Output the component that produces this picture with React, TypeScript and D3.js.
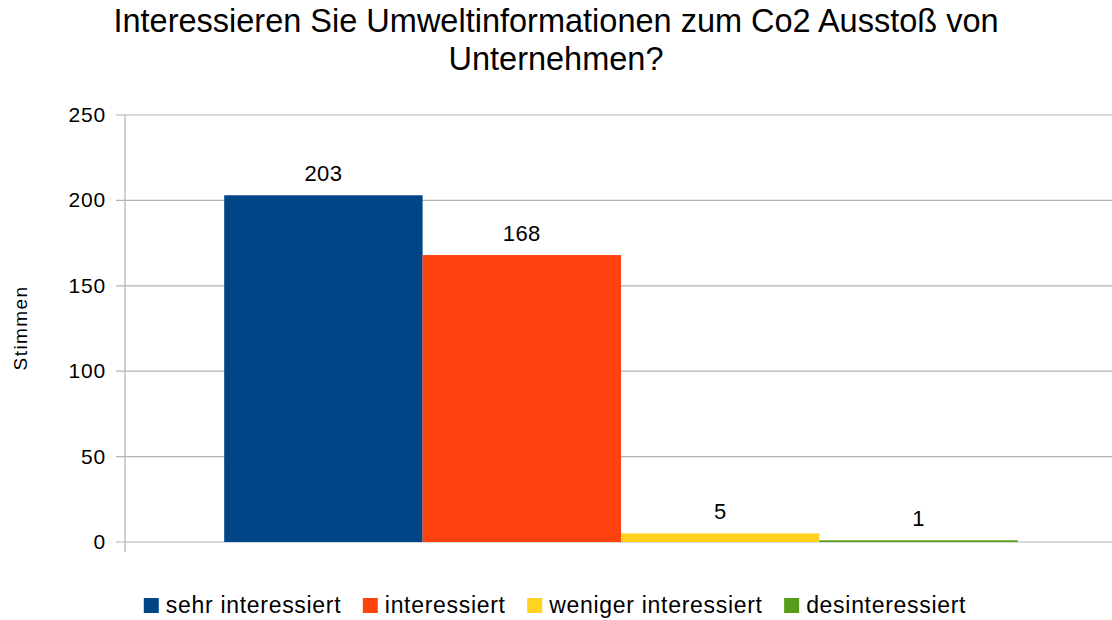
import { useEffect, useRef } from "react"
import * as d3 from "d3"

const categories = ["sehr interessiert", "interessiert", "weniger interessiert", "desinteressiert"]
const values = [203, 168, 5, 1]
const colors = ["#004586", "#ff420e", "#ffd320", "#579d1c"]
const yTicks = [0, 50, 100, 150, 200, 250]
const titleLines = ["Interessieren Sie Umweltinformationen zum Co2 Ausstoß von", "Unternehmen?"]

export default function App() {
  const svgRef = useRef<SVGSVGElement>(null)

  useEffect(() => {
    if (!svgRef.current) return
    const svg = d3.select(svgRef.current)
    svg.selectAll("*").remove()

    const width = 1112
    const height = 620
    const font = "'Liberation Sans', Arial, sans-serif"
    const left = 125
    const right = 1117
    const top = 115
    const bottom = 542

    const y = d3.scaleLinear().domain([0, 250]).range([bottom, top])
    const x = d3.scaleBand().domain(categories).range([left + (right - left) * 0.1, right - (right - left) * 0.1])

    svg.attr("width", width).attr("height", height)

    // title
    svg
      .selectAll("text.title")
      .data(titleLines)
      .enter()
      .append("text")
      .attr("x", 556)
      .attr("y", (d, i) => 32 + i * 37.5)
      .attr("text-anchor", "middle")
      .attr("font-family", font)
      .attr("font-size", 32.5)
      .attr("fill", "#000")
      .text((d) => d)

    // grid lines
    svg
      .selectAll("line.grid")
      .data(yTicks)
      .enter()
      .append("line")
      .attr("x1", left - 9)
      .attr("x2", width)
      .attr("y1", (d) => y(d))
      .attr("y2", (d) => y(d))
      .attr("stroke", "#b3b3b3")
      .attr("stroke-width", 1.2)

    svg
      .selectAll("text.tick")
      .data(yTicks)
      .enter()
      .append("text")
      .attr("x", 106)
      .attr("y", (d) => y(d) + 7)
      .attr("text-anchor", "end")
      .attr("font-family", font)
      .attr("font-size", 21)
      .attr("letter-spacing", 0.8)
      .text((d) => d)

    // bars
    svg
      .selectAll("rect.bar")
      .data(categories)
      .enter()
      .append("rect")
      .attr("x", (d) => x(d)!)
      .attr("width", x.bandwidth())
      .attr("y", (d, i) => y(values[i]))
      .attr("height", (d, i) => bottom - y(values[i]))
      .attr("fill", (d, i) => colors[i])

    // axis line
    svg
      .append("line")
      .attr("x1", left)
      .attr("x2", left)
      .attr("y1", top)
      .attr("y2", bottom + 10)
      .attr("stroke", "#b3b3b3")
      .attr("stroke-width", 1.2)

    // value labels
    svg
      .selectAll("text.value")
      .data(categories)
      .enter()
      .append("text")
      .attr("x", (d) => x(d)! + x.bandwidth() / 2)
      .attr("y", (d, i) => y(values[i]) - 14.5)
      .attr("text-anchor", "middle")
      .attr("font-family", font)
      .attr("font-size", 22)
      .attr("letter-spacing", 0.4)
      .text((d, i) => values[i])

    // y-axis title
    svg
      .append("text")
      .attr("transform", `translate(27,328) rotate(-90)`)
      .attr("text-anchor", "middle")
      .attr("font-family", font)
      .attr("font-size", 19)
      .attr("letter-spacing", 1.4)
      .text("Stimmen")

    // legend, laid out in a row and centred
    const lg = svg.append("g")
    let cx = 0
    categories.forEach((c, i) => {
      const item = lg.append("g").attr("transform", `translate(${cx},0)`)
      item.append("rect").attr("x", 0).attr("y", -7).attr("width", 15).attr("height", 15).attr("fill", colors[i])
      const t = item
        .append("text")
        .attr("x", 22)
        .attr("y", 8)
        .attr("font-family", font)
        .attr("font-size", 23)
        .attr("letter-spacing", 0.7)
        .text(c)
      const w = (t.node() as SVGTextElement).getComputedTextLength()
      cx += 22 + w + (i < categories.length - 1 ? 21.5 : 0)
    })
    lg.attr("transform", `translate(${555 - cx / 2},605)`)
  }, [])

  return <svg ref={svgRef} style={{ position: "absolute", left: 0, top: 0, background: "#fff" }} />
}
